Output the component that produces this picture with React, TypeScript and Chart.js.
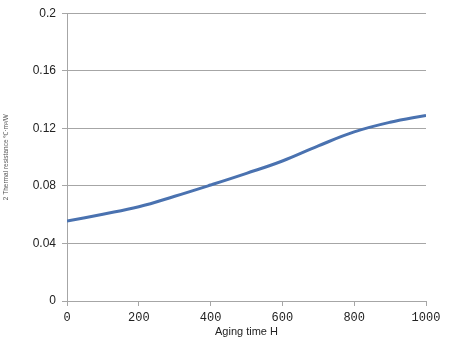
import React, { useEffect, useRef } from "react";
import { Chart, registerables } from "chart.js";

Chart.register(...registerables);

const agingHours = [0, 100, 200, 300, 400, 500, 600, 700, 800, 900, 1000];
const thermalResistance = [0.0555, 0.0603, 0.0655, 0.0728, 0.0806, 0.0887, 0.0973, 0.1078, 0.1175, 0.1242, 0.129];
const xTicks = [0, 200, 400, 600, 800, 1000];
const yTicks = [0, 0.04, 0.08, 0.12, 0.16, 0.2];
const xTitle = "Aging time H";
const yTitle = "2 Thermal resistance ℃·m²/W";

export default function App() {
  const ref = useRef<HTMLCanvasElement | null>(null);
  useEffect(() => {
    if (!ref.current) return;
    const chart = new Chart(ref.current, {
      type: "line",
      data: {
        datasets: [
          {
            data: agingHours.map((x, i) => ({ x, y: thermalResistance[i] })),
            borderColor: "#4a72b0",
            borderWidth: 3,
            pointRadius: 0,
            tension: 0.4,
            fill: false,
          },
        ],
      },
      options: {
        animation: false,
        responsive: false,
        layout: { padding: { top: 12, right: 45, left: 0, bottom: 14 } },
        plugins: { legend: { display: false }, tooltip: { enabled: false } },
        scales: {
          x: {
            type: "linear",
            min: 0,
            max: 1000,
            afterBuildTicks: (s: any) => {
              s.ticks = xTicks.map((v) => ({ value: v }));
            },
            afterFit: (s: any) => {
              s.height = 38;
            },
            grid: {
              display: true,
              drawOnChartArea: false,
              drawTicks: true,
              tickLength: 5,
              color: "#a6a6a6",
              lineWidth: 1,
            },
            border: { color: "#a6a6a6", width: 1 },
            ticks: {
              color: "#222",
              padding: 5,
              maxRotation: 0,
              callback: (v: any) => String(v),
              font: { family: "'Liberation Mono', monospace", size: 12 },
            },
            title: {
              display: true,
              text: xTitle,
              color: "#222",
              padding: { top: 0, bottom: 0 },
              font: { family: "'Liberation Sans', Arial, sans-serif", size: 11 },
            },
          },
          y: {
            type: "linear",
            min: 0,
            max: 0.2,
            afterBuildTicks: (s: any) => {
              s.ticks = yTicks.map((v) => ({ value: v }));
            },
            afterFit: (s: any) => {
              s.width = 67;
            },
            grid: {
              color: "#a6a6a6",
              lineWidth: 1,
              drawTicks: true,
              tickLength: 5,
            },
            border: { color: "#a6a6a6", width: 1 },
            ticks: {
              color: "#222",
              padding: 6,
              callback: (v: any) => String(Number(Number(v).toFixed(2))),
              font: { family: "'Liberation Sans', Arial, sans-serif", size: 12 },
            },
            title: {
              display: true,
              text: yTitle,
              color: "#555",
              padding: { top: 2, bottom: 0 },
              font: { family: "'Liberation Sans', Arial, sans-serif", size: 6.5 },
            },
          },
        },
      },
    } as any);
    return () => chart.destroy();
  }, []);
  return (
    <div style={{ position: "fixed", left: 0, top: 0, width: 471, height: 353, background: "#fff" }}>
      <canvas ref={ref} width={471} height={353} style={{ width: 471, height: 353 }} />
    </div>
  );
}
